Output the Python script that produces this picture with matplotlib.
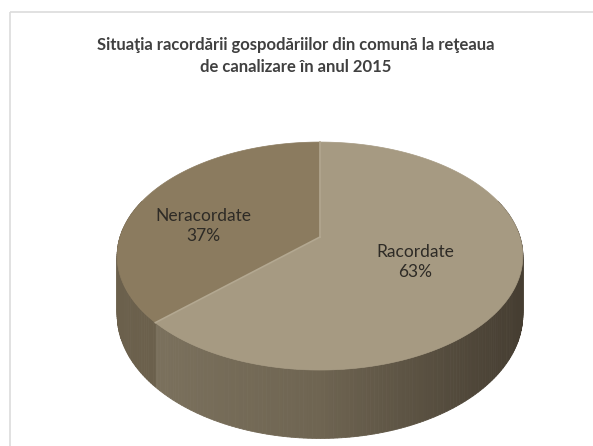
import numpy as np
import matplotlib.pyplot as plt
from matplotlib.patches import Polygon, Rectangle
from matplotlib.colors import to_rgb

# data
labels = ["Racordate", "Neracordate"]
values = [63, 37]
top_colors = ["#a69a82", "#8b7b5f"]
side_stops = [["#7b715d", "#6f6552", "#463e32"], ["#6b604c", "#6b604c", "#6b604c"]]
title = "Situaţia racordării gospodăriilor din comună la reţeaua\nde canalizare în anul 2015"

# 3d pie geometry (pixels)
cx, cy = 320, 237
A, B, g = 200, 110.8, 0.167
D = 57


def proj(theta, depth=0.0):
    X = np.cos(theta)
    Y = -np.sin(theta)
    w = 1 - g * Y
    return cx + A * X / w, cy + B * Y / w + depth / w


def side_color(stops, t):
    t = min(max(t, 0), 1)
    c = [np.array(to_rgb(s)) for s in stops]
    if t < 0.45:
        return c[0] + (c[1] - c[0]) * t / 0.45
    return c[1] + (c[2] - c[1]) * (t - 0.45) / 0.55


fig = plt.figure(figsize=(5.93, 4.46), dpi=100)
ax = fig.add_axes([0, 0, 1, 1])
ax.set_xlim(0, 593)
ax.set_ylim(446, 0)
ax.axis("off")

ax.add_patch(Rectangle((10, 12), 600, 450, fill=False, edgecolor="#dcdcdc", lw=1.2))

# slice angles, clockwise from top
total = sum(values)
spans = []
end = 90.0
for v in values:
    start = end - 360.0 * v / total
    spans.append((start, end))
    end = start

# sides (front half only)
for (a0, a1), stops in zip(spans, side_stops):
    for lo_, hi_ in [(a0, a1), (a0 + 360, a1 + 360), (a0 - 360, a1 - 360)]:
        s0 = max(lo_, -200)
        s1 = min(hi_, 20)
        if s1 <= s0:
            continue
        th = np.radians(np.linspace(s0, s1, int(s1 - s0) + 2))
        for i in range(len(th) - 1):
            x0, y0 = proj(th[i])
            x1, y1 = proj(th[i + 1])
            x2, y2 = proj(th[i + 1], D)
            x3, y3 = proj(th[i], D)
            col = side_color(stops, ((x0 + x1) / 2 - 150) / 370)
            ax.add_patch(Polygon([[x0, y0], [x1, y1], [x2, y2], [x3, y3]],
                                 closed=True, facecolor=col, edgecolor=col, lw=0.6))

# tops
for (a0, a1), col in zip(spans, top_colors):
    th = np.radians(np.linspace(a0, a1, 200))
    xs, ys = proj(th)
    pts = [[cx, cy]] + list(zip(xs, ys))
    ax.add_patch(Polygon(pts, closed=True, facecolor=col, edgecolor=col, lw=0.5))

# light edges along the slice boundaries
for a0, a1 in spans:
    xe, ye = proj(np.radians(a1))
    ax.plot([cx, xe], [cy, ye], color="#b3a891", lw=1.2)

# labels
label_pos = [(415, 262), (203, 226)]
for lab, v, (lx, ly) in zip(labels, values, label_pos):
    ax.text(lx, ly, f"{lab}\n{v}%", ha="center", va="center", fontsize=12.5,
            color="#2e2b26", family="Lato", linespacing=1.35)

ax.text(296, 56, title, ha="center", va="center", fontsize=12, fontweight="bold",
        color="#404040", family="Lato", linespacing=1.4)

fig.savefig("out.png", dpi=100)
